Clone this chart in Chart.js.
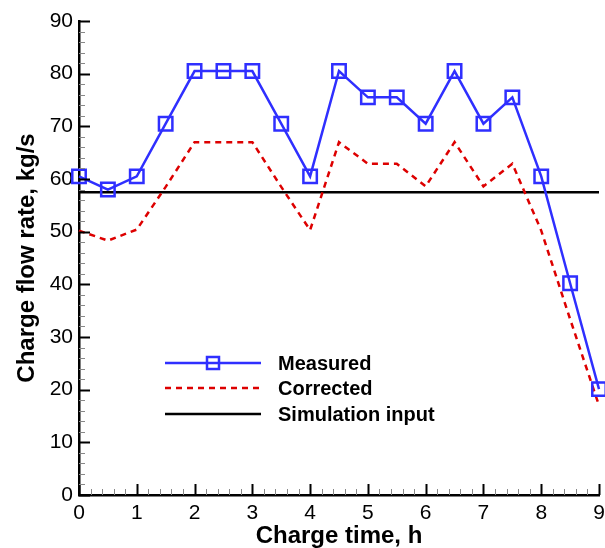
<!DOCTYPE html>
<html>
<head>
<meta charset="utf-8">
<script src="https://cdn.jsdelivr.net/npm/chart.js@4.4.0/dist/chart.umd.min.js"></script>
<style>
  html, body { margin: 0; padding: 0; background: #fff; overflow: hidden; }
  canvas { display: block; }
</style>
</head>
<body>
<canvas id="chart" width="605" height="548"></canvas>
<script>
const hours = [0, 0.5, 1, 1.5, 2, 2.5, 3, 3.5, 4, 4.5, 5, 5.5, 6, 6.5, 7, 7.5, 8, 8.5, 9];
const measured = [60.5, 58, 60.5, 70.5, 80.5, 80.5, 80.5, 70.5, 60.5, 80.5, 75.5, 75.5, 70.5, 80.5, 70.5, 75.5, 60.5, 40.2, 20.1];
const corrected = [50.2, 48.3, 50.4, 58.5, 67, 67, 67, 58.5, 50.3, 67, 62.9, 62.9, 58.6, 67, 58.6, 62.9, 50.2, 33.4, 17];
const simHours = [0, 9];
const simInput = [57.5, 57.5];
const xTicks = [0, 1, 2, 3, 4, 5, 6, 7, 8, 9];
const yTicks = [0, 10, 20, 30, 40, 50, 60, 70, 80, 90];

const BLUE = "#2f2fff";
const RED = "#dd0000";
const FONT = "'Liberation Sans', Arial, Helvetica, sans-serif";

const toPoints = (xs, ys) => xs.map((x, i) => ({ x, y: ys[i] }));

// ticks drawn inward like the original plot, with minor ticks
const innerTicks = {
  id: "innerTicks",
  afterDraw(chart) {
    const { ctx, scales: { x, y }, chartArea } = chart;
    ctx.save();
    for (let v = 0; v <= 9.0001; v += 0.2) {
      const major = Math.abs(v - Math.round(v)) < 1e-6;
      const px = Math.round(x.getPixelForValue(v)) + 0.5;
      ctx.lineWidth = major ? 2 : 1;
      ctx.strokeStyle = major ? "#000" : "#888";
      ctx.beginPath();
      ctx.moveTo(px, chartArea.bottom);
      ctx.lineTo(px, chartArea.bottom - (major ? 11 : 6));
      ctx.stroke();
    }
    for (let v = 0; v <= 90.0001; v += 2) {
      const major = v % 10 === 0;
      const py = Math.round(y.getPixelForValue(v)) + 0.5;
      ctx.lineWidth = major ? 2 : 1;
      ctx.strokeStyle = major ? "#000" : "#888";
      ctx.beginPath();
      ctx.moveTo(chartArea.left, py);
      ctx.lineTo(chartArea.left + (major ? 11 : 6), py);
      ctx.stroke();
    }
    ctx.restore();
  }
};

// legend inside the plot area
const innerLegend = {
  id: "innerLegend",
  afterDatasetsDraw(chart) {
    const { ctx, chartArea } = chart;
    const x0 = chartArea.left + 86, x1 = chartArea.left + 182, tx = chartArea.left + 199;
    const rows = [chartArea.top + 342, chartArea.top + 367, chartArea.top + 393];
    ctx.save();
    chart.data.datasets.forEach((ds, i) => {
      const yy = rows[i];
      ctx.strokeStyle = ds.borderColor;
      ctx.lineWidth = ds.borderWidth;
      ctx.setLineDash(ds.borderDash || []);
      ctx.beginPath();
      ctx.moveTo(x0, yy);
      ctx.lineTo(x1, yy);
      ctx.stroke();
      ctx.setLineDash([]);
      if (ds.pointRadius > 0) {
        const s = 12;
        ctx.lineWidth = ds.pointBorderWidth;
        ctx.strokeStyle = ds.pointBorderColor;
        ctx.strokeRect((x0 + x1) / 2 - s / 2, yy - s / 2, s, s);
      }
      ctx.fillStyle = "#000";
      ctx.font = "bold 20px " + FONT;
      ctx.textBaseline = "middle";
      ctx.fillText(ds.label, tx, yy + 1);
    });
    ctx.restore();
  }
};

new Chart(document.getElementById("chart"), {
  type: "line",
  data: {
    datasets: [
      {
        label: "Measured",
        data: toPoints(hours, measured),
        borderColor: BLUE,
        borderWidth: 2.5,
        pointStyle: "rect",
        pointRadius: 9.5,
        pointBorderWidth: 2.5,
        pointBorderColor: BLUE,
        pointBackgroundColor: "rgba(0,0,0,0)",
        tension: 0,
        clip: false
      },
      {
        label: "Corrected",
        data: toPoints(hours, corrected),
        borderColor: RED,
        borderWidth: 2.5,
        borderDash: [6, 5],
        pointRadius: 0,
        tension: 0,
        clip: false
      },
      {
        label: "Simulation input",
        data: toPoints(simHours, simInput),
        borderColor: "#000",
        borderWidth: 2.5,
        pointRadius: 0,
        tension: 0
      }
    ]
  },
  options: {
    responsive: false,
    animation: false,
    layout: { autoPadding: false, padding: { top: 21, right: 6, left: 0, bottom: 0 } },
    plugins: {
      legend: { display: false },
      tooltip: { enabled: false }
    },
    scales: {
      x: {
        type: "linear",
        min: 0,
        max: 9,
        afterBuildTicks(scale) { scale.ticks = xTicks.map(v => ({ value: v })); },
        afterFit(scale) {
          scale.height = 53;
          scale.paddingLeft = 0;
          scale.paddingRight = 0;
        },
        grid: { display: false, drawTicks: false },
        border: { display: true, color: "#000", width: 2.5 },
        ticks: { color: "#000", padding: 6, font: { family: FONT, size: 21 } },
        title: {
          display: true,
          text: "Charge time, h",
          color: "#000",
          padding: 0,
          font: { family: FONT, size: 24, weight: "bold", lineHeight: 1 }
        }
      },
      y: {
        min: 0,
        max: 90,
        afterBuildTicks(scale) { scale.ticks = yTicks.map(v => ({ value: v })); },
        afterFit(scale) { scale.width = 79; },
        grid: { display: false, drawTicks: false },
        border: { display: true, color: "#000", width: 2.5 },
        ticks: { color: "#000", padding: 6, font: { family: FONT, size: 21 } },
        title: {
          display: true,
          text: "Charge flow rate, kg/s",
          color: "#000",
          padding: { top: 13, bottom: 0 },
          font: { family: FONT, size: 24, weight: "bold" }
        }
      }
    }
  },
  plugins: [innerTicks, innerLegend]
});
</script>
</body>
</html>
